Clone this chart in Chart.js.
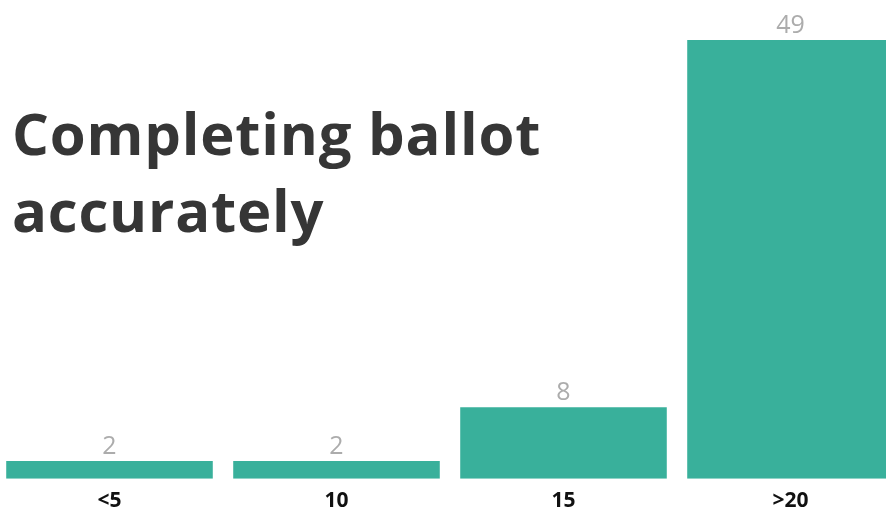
<!DOCTYPE html>
<html>
<head>
<meta charset="utf-8">
<script src="https://cdn.jsdelivr.net/npm/chart.js@4/dist/chart.umd.min.js"></script>
<style>
	html, body { margin: 0; padding: 0; background: #fff; overflow: hidden; }
	#wrap { position: relative; width: 886px; height: 515px; overflow: hidden; }
	#box { position: absolute; left: -4px; top: 0; width: 908px; height: 524px; }
	#title {
		position: absolute; left: 12px; top: 94px;
		font-family: "Open Sans", sans-serif; font-weight: 700;
		font-size: 58px; line-height: 77px; color: #363636;
		letter-spacing: 0.8px;
		white-space: nowrap;
	}
</style>
</head>
<body>
<div id="wrap">
	<div id="box"><canvas id="ballot"></canvas></div>
	<div id="title">Completing ballot<br>accurately</div>
</div>
<script>
// Data
const categories = [ '<5', '10', '15', '>20' ];
const counts = [ 2, 2, 8, 49 ];

// Draw value labels above bars
const valueLabels = {
	id: 'valueLabels',
	afterDatasetsDraw( chart ) {
		const ctx = chart.ctx;
		const meta = chart.getDatasetMeta( 0 );
		ctx.save();
		ctx.font = '25px "Open Sans", sans-serif';
		ctx.fillStyle = '#acacac';
		ctx.textAlign = 'center';
		ctx.textBaseline = 'bottom';
		meta.data.forEach( function ( bar, i ) {
			ctx.fillText( counts[ i ], bar.x, bar.y - 2 );
		} );
		ctx.restore();
	}
};

const ctx = document.getElementById( 'ballot' ).getContext( '2d' );
new Chart( ctx, {
	type: 'bar',
	data: {
		labels: categories,
		datasets: [
			{
				data: counts,
				backgroundColor: '#39b09b',
				barPercentage: 0.91,
				categoryPercentage: 1
			}
		]
	},
	options: {
		responsive: true,
		maintainAspectRatio: false,
		animation: false,
		layout: { padding: { top: 31, bottom: 0, left: 0, right: 0 } },
		plugins: {
			legend: { display: false },
			tooltip: { enabled: false }
		},
		scales: {
			x: {
				grid: { display: false, drawTicks: false },
				border: { display: false },
				ticks: {
					color: '#111',
					padding: 10,
					font: { family: '"Open Sans", sans-serif', size: 21, weight: 'bold' }
				}
			},
			y: {
				display: false,
				min: 0,
				max: 50
			}
		}
	},
	plugins: [ valueLabels ]
} );
</script>
</body>
</html>
